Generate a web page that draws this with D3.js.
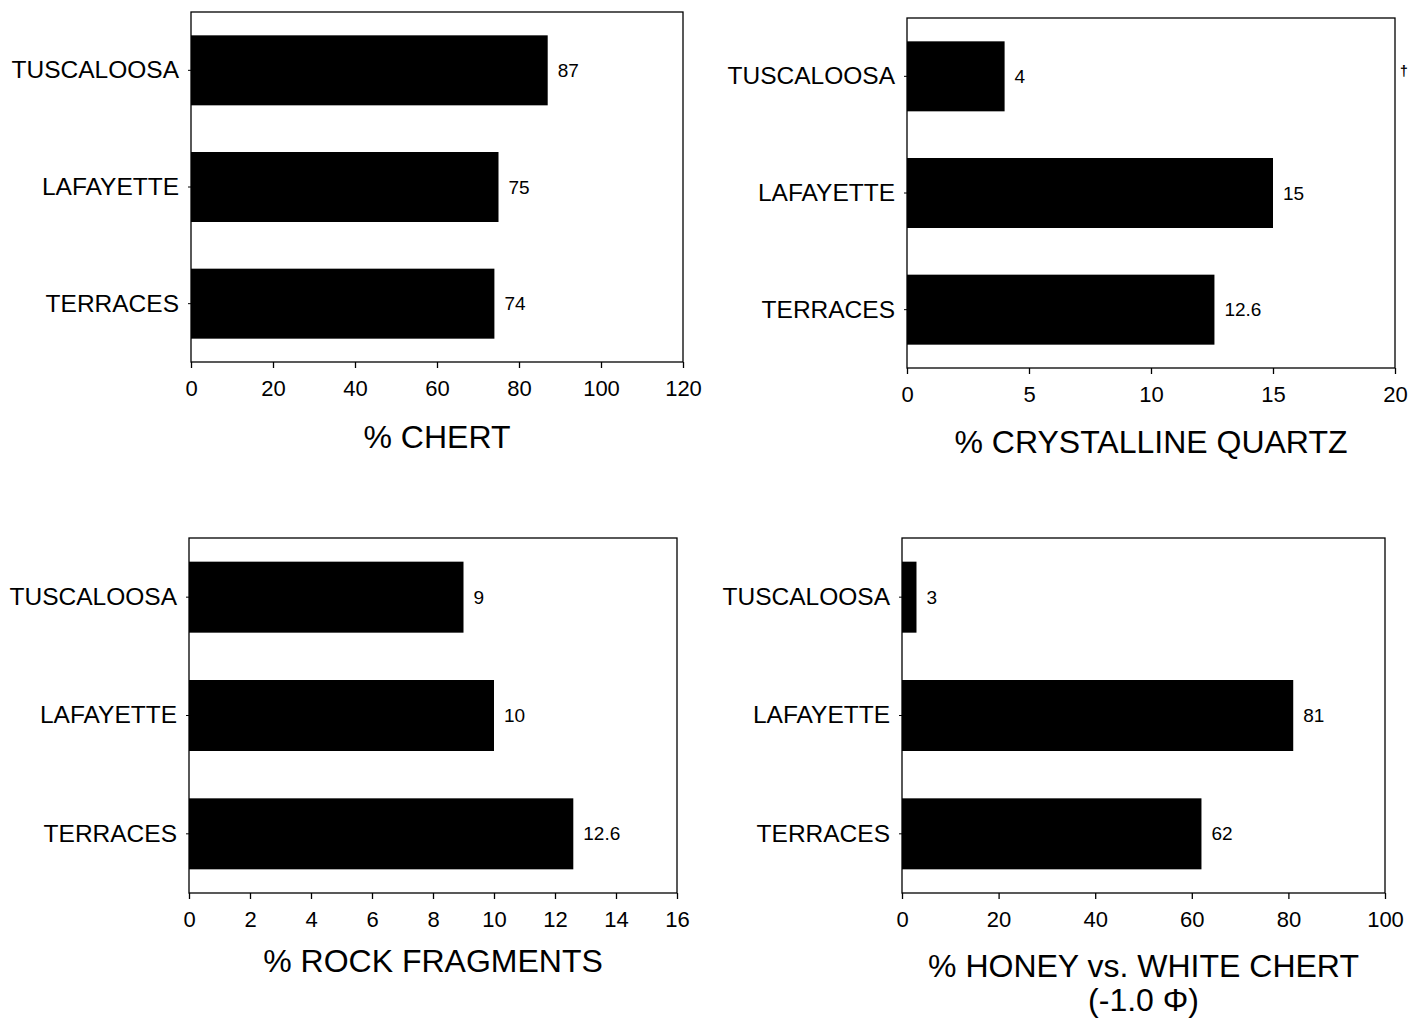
<!DOCTYPE html>
<html>
<head>
<meta charset="utf-8">
<script src="https://cdn.jsdelivr.net/npm/d3@7"></script>
<style>
  body { margin: 0; background: #fff; }
  text { font-family: "Liberation Sans", Arial, sans-serif; fill: #000; }
</style>
</head>
<body>
<script>
// data
var categories = ["TUSCALOOSA", "LAFAYETTE", "TERRACES"];

var chertPct = [87, 75, 74];
var quartzPct = [4, 15, 12.6];
var rockPct = [9, 10, 12.6];
var honeyPct = [3, 81, 62];

var chertTicks = [0, 20, 40, 60, 80, 100, 120];
var quartzTicks = [0, 5, 10, 15, 20];
var rockTicks = [0, 2, 4, 6, 8, 10, 12, 14, 16];
var honeyTicks = [0, 20, 40, 60, 80, 100];

var chertTitle = ["% CHERT"];
var quartzTitle = ["% CRYSTALLINE QUARTZ"];
var rockTitle = ["% ROCK FRAGMENTS"];
var honeyTitle = ["% HONEY vs. WHITE CHERT", "(-1.0 \u03A6)"];

var svg = d3.select("body").append("svg")
    .attr("width", 1422)
    .attr("height", 1023);

var drawPanel = function(opt){
    var xScale = d3.scaleLinear()
        .domain([0, d3.max(opt.ticks)])
        .range([opt.x0, opt.x1]);
    var yScale = d3.scaleBand()
        .domain(categories)
        .range([opt.top, opt.bottom])
        .paddingInner(0.4)
        .paddingOuter(0.2);

    var g = svg.append("g");

    // frame
    g.append("rect")
        .attr("x", opt.x0).attr("y", opt.top)
        .attr("width", opt.x1 - opt.x0).attr("height", opt.bottom - opt.top)
        .style("fill", "none").style("stroke", "#000").style("stroke-width", 1.3);

    // bars
    g.selectAll(".bar").data(opt.values).enter().append("rect")
        .attr("class", "bar")
        .attr("x", xScale(0))
        .attr("y", function(d, i){ return yScale(categories[i]); })
        .attr("width", function(d){ return xScale(d) - xScale(0); })
        .attr("height", yScale.bandwidth())
        .style("fill", "#000");

    // value labels
    g.selectAll(".val").data(opt.values).enter().append("text")
        .attr("class", "val")
        .attr("x", function(d){ return xScale(d) + 10; })
        .attr("y", function(d, i){ return yScale(categories[i]) + yScale.bandwidth()/2; })
        .attr("dy", "0.35em")
        .style("font-size", "19px")
        .text(function(d){ return d; });

    // x axis
    var xAxis = d3.axisBottom(xScale)
        .tickValues(opt.ticks)
        .tickFormat(d3.format("d"))
        .tickSizeInner(6).tickSizeOuter(0).tickPadding(12);
    var ax = g.append("g")
        .attr("transform", "translate(0," + opt.bottom + ")")
        .call(xAxis);
    ax.select(".domain").remove();
    ax.selectAll("line").style("stroke", "#000").style("stroke-width", 1.3);
    ax.selectAll("text").style("font-size", "22px").style("font-family", "Liberation Sans, Arial, sans-serif");

    // y axis (categories)
    var yAxis = d3.axisLeft(yScale).tickSizeInner(3).tickSizeOuter(0).tickPadding(9);
    var ay = g.append("g")
        .attr("transform", "translate(" + opt.x0 + ",0)")
        .call(yAxis);
    ay.select(".domain").remove();
    ay.selectAll("line").style("stroke", "#000");
    ay.selectAll("text").style("font-size", "24.5px").style("font-family", "Liberation Sans, Arial, sans-serif");

    // title
    g.selectAll(".title").data(opt.title).enter().append("text")
        .attr("class", "title")
        .attr("x", (opt.x0 + opt.x1)/2)
        .attr("y", function(d, i){ return opt.titleY + i*34; })
        .attr("text-anchor", "middle")
        .style("font-size", "32px")
        .text(function(d){ return d; });

    return g;
};

drawPanel({values: chertPct, ticks: chertTicks, title: chertTitle,
    x0: 191, x1: 683, top: 12, bottom: 362, titleY: 448});
var p2 = drawPanel({values: quartzPct, ticks: quartzTicks, title: quartzTitle,
    x0: 907, x1: 1395, top: 18, bottom: 368, titleY: 453});
drawPanel({values: rockPct, ticks: rockTicks, title: rockTitle,
    x0: 189, x1: 677, top: 538, bottom: 893, titleY: 972});
drawPanel({values: honeyPct, ticks: honeyTicks, title: honeyTitle,
    x0: 902, x1: 1385, top: 538, bottom: 893, titleY: 977});

// small stray mark beside the quartz frame
p2.append("text")
    .attr("x", 1404).attr("y", 76)
    .attr("text-anchor", "middle")
    .style("font-size", "14px")
    .style("font-weight", "bold")
    .text("\u2020");
</script>
</body>
</html>
